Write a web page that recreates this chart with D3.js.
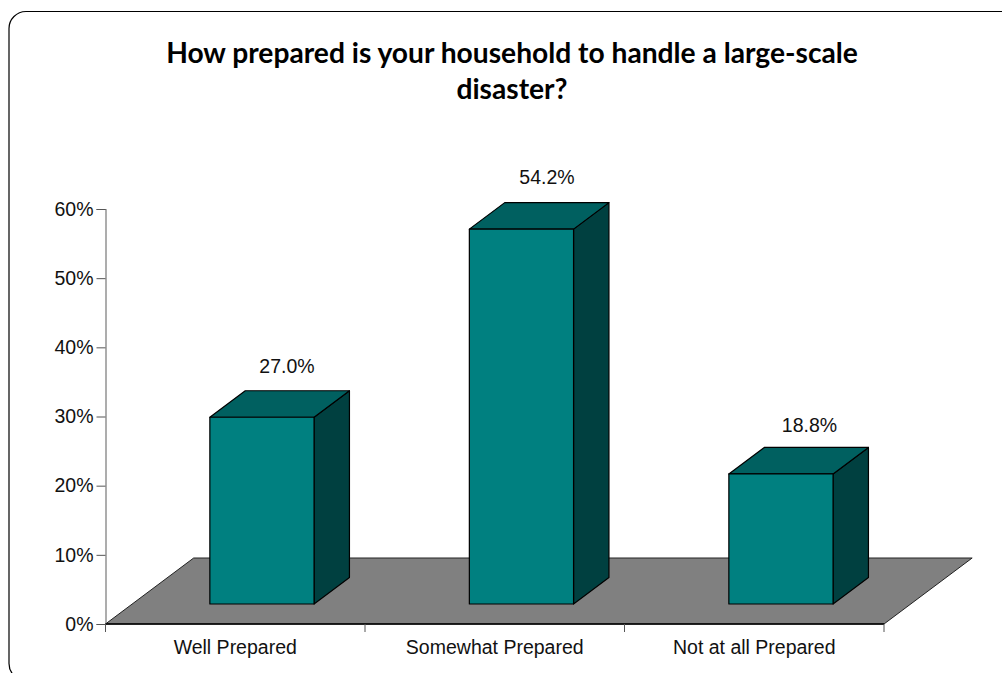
<!DOCTYPE html>
<html>
<head>
<meta charset="utf-8">
<script src="https://cdn.jsdelivr.net/npm/d3@7"></script>
<style>
html, body { margin: 0; padding: 0; background: #fff; }
svg { display: block; }
</style>
</head>
<body>
<svg id="chart" width="1002" height="673"></svg>
<script>
const categories = ["Well Prepared", "Somewhat Prepared", "Not at all Prepared"];
const shares = [27.0, 54.2, 18.8];
const yTicks = [0, 10, 20, 30, 40, 50, 60];
const titleLines = ["How prepared is your household to handle a large-scale", "disaster?"];

const svg = d3.select("#chart");
const plot = { left: 105.5, right: 884, top: 209, bottom: 624 };
const depth = { dx: 35.4, dy: -26.5 };
const floorLift = 66;   // height of the floor's back edge above the axis line
const barLift = 20;     // bars stand this far above the axis line, on the floor
const barShift = 26.7;  // bars sit toward the back of the floor
const barWidth = 104.2;
const labelFont = "'Liberation Sans', Arial, sans-serif";
const labelSize = 19.5;

// Hand placement of the value labels relative to their column
const labelAlong = [25, 25.5, 28.5];
const labelAbove = [44, 45, 42];

const x = d3.scaleBand().domain(categories).range([plot.left, plot.right]).padding(0);
const y = d3.scaleLinear().domain([0, 60]).range([plot.bottom, plot.top]);

// Rounded outer frame, running off the right and bottom of the page
svg.append("rect")
  .attr("x", 9).attr("y", 11.5).attr("width", 1040).attr("height", 669)
  .attr("rx", 17).attr("ry", 17)
  .attr("fill", "#fff").attr("stroke", "#000").attr("stroke-width", 1.2);

// Title
svg.append("text")
  .attr("text-anchor", "middle")
  .attr("font-family", "Lato, sans-serif")
  .attr("font-weight", 700)
  .attr("font-size", 28.2)
  .attr("fill", "#000")
  .selectAll("tspan").data(titleLines).join("tspan")
  .attr("x", 512).attr("y", (d, i) => 63 + i * 36)
  .text(d => d);

// Floor of the 3D plot
const floorSkew = floorLift * depth.dx / -depth.dy;
const floor = d3.path();
floor.moveTo(plot.left, plot.bottom);
floor.lineTo(plot.left + floorSkew, plot.bottom - floorLift);
floor.lineTo(plot.right + floorSkew, plot.bottom - floorLift);
floor.lineTo(plot.right, plot.bottom);
floor.closePath();
svg.append("path").attr("d", floor.toString())
  .attr("fill", "#808080").attr("stroke", "#222").attr("stroke-width", 1);

// Value axis
const yAxis = d3.axisLeft(y)
  .tickValues(yTicks).tickFormat(d => d + "%").tickSize(9).tickPadding(3);
const yG = svg.append("g").attr("transform", `translate(${plot.left},0)`).call(yAxis);
yG.select(".domain").attr("stroke", "#777").attr("stroke-width", 1.2);
yG.selectAll(".tick line").attr("stroke", "#555");
yG.selectAll("text")
  .attr("font-family", labelFont)
  .attr("font-size", labelSize).attr("fill", "#111");

// Category axis, ticks between categories
const edges = categories.map(c => x(c)).concat(plot.right);
svg.append("line")
  .attr("x1", plot.left).attr("x2", plot.right)
  .attr("y1", plot.bottom).attr("y2", plot.bottom)
  .attr("stroke", "#000").attr("stroke-width", 1.4);
svg.selectAll(".cat-tick").data(edges).join("line")
  .attr("class", "cat-tick")
  .attr("x1", d => d).attr("x2", d => d)
  .attr("y1", plot.bottom).attr("y2", plot.bottom + 8)
  .attr("stroke", "#555");
svg.selectAll(".cat-label").data(categories).join("text")
  .attr("class", "cat-label")
  .attr("x", d => x(d) + x.bandwidth() / 2)
  .attr("y", 654)
  .attr("text-anchor", "middle")
  .attr("font-family", labelFont)
  .attr("font-size", labelSize).attr("fill", "#111")
  .text(d => d);

// 3D columns: side, top, front
const rows = categories.map((c, i) => ({ c, v: shares[i], i }));
const barLeft = d => x(d.c) + x.bandwidth() / 2 + barShift - barWidth / 2;
const barBase = plot.bottom - barLift;
const barTop = d => barBase - (y(0) - y(d.v));
const poly = pts => d3.line()(pts) + "Z";

const bars = svg.selectAll(".bar").data(rows).join("g").attr("class", "bar")
  .attr("stroke", "#000").attr("stroke-width", 1.2).attr("stroke-linejoin", "round");

bars.append("path").attr("fill", "#004040").attr("d", d => {
  const r = barLeft(d) + barWidth, t = barTop(d);
  return poly([[r, t], [r + depth.dx, t + depth.dy], [r + depth.dx, barBase + depth.dy], [r, barBase]]);
});
bars.append("path").attr("fill", "#006060").attr("d", d => {
  const l = barLeft(d), r = l + barWidth, t = barTop(d);
  return poly([[l, t], [l + depth.dx, t + depth.dy], [r + depth.dx, t + depth.dy], [r, t]]);
});
bars.append("rect").attr("fill", "#008080")
  .attr("x", barLeft).attr("y", barTop)
  .attr("width", barWidth).attr("height", d => barBase - barTop(d));

// Value labels above each column
svg.selectAll(".value").data(rows).join("text")
  .attr("class", "value")
  .attr("x", d => barLeft(d) + barWidth / 2 + labelAlong[d.i])
  .attr("y", d => barTop(d) - labelAbove[d.i])
  .attr("text-anchor", "middle")
  .attr("font-family", labelFont)
  .attr("font-size", labelSize).attr("fill", "#111")
  .text(d => d.v.toFixed(1) + "%");
</script>
</body>
</html>
